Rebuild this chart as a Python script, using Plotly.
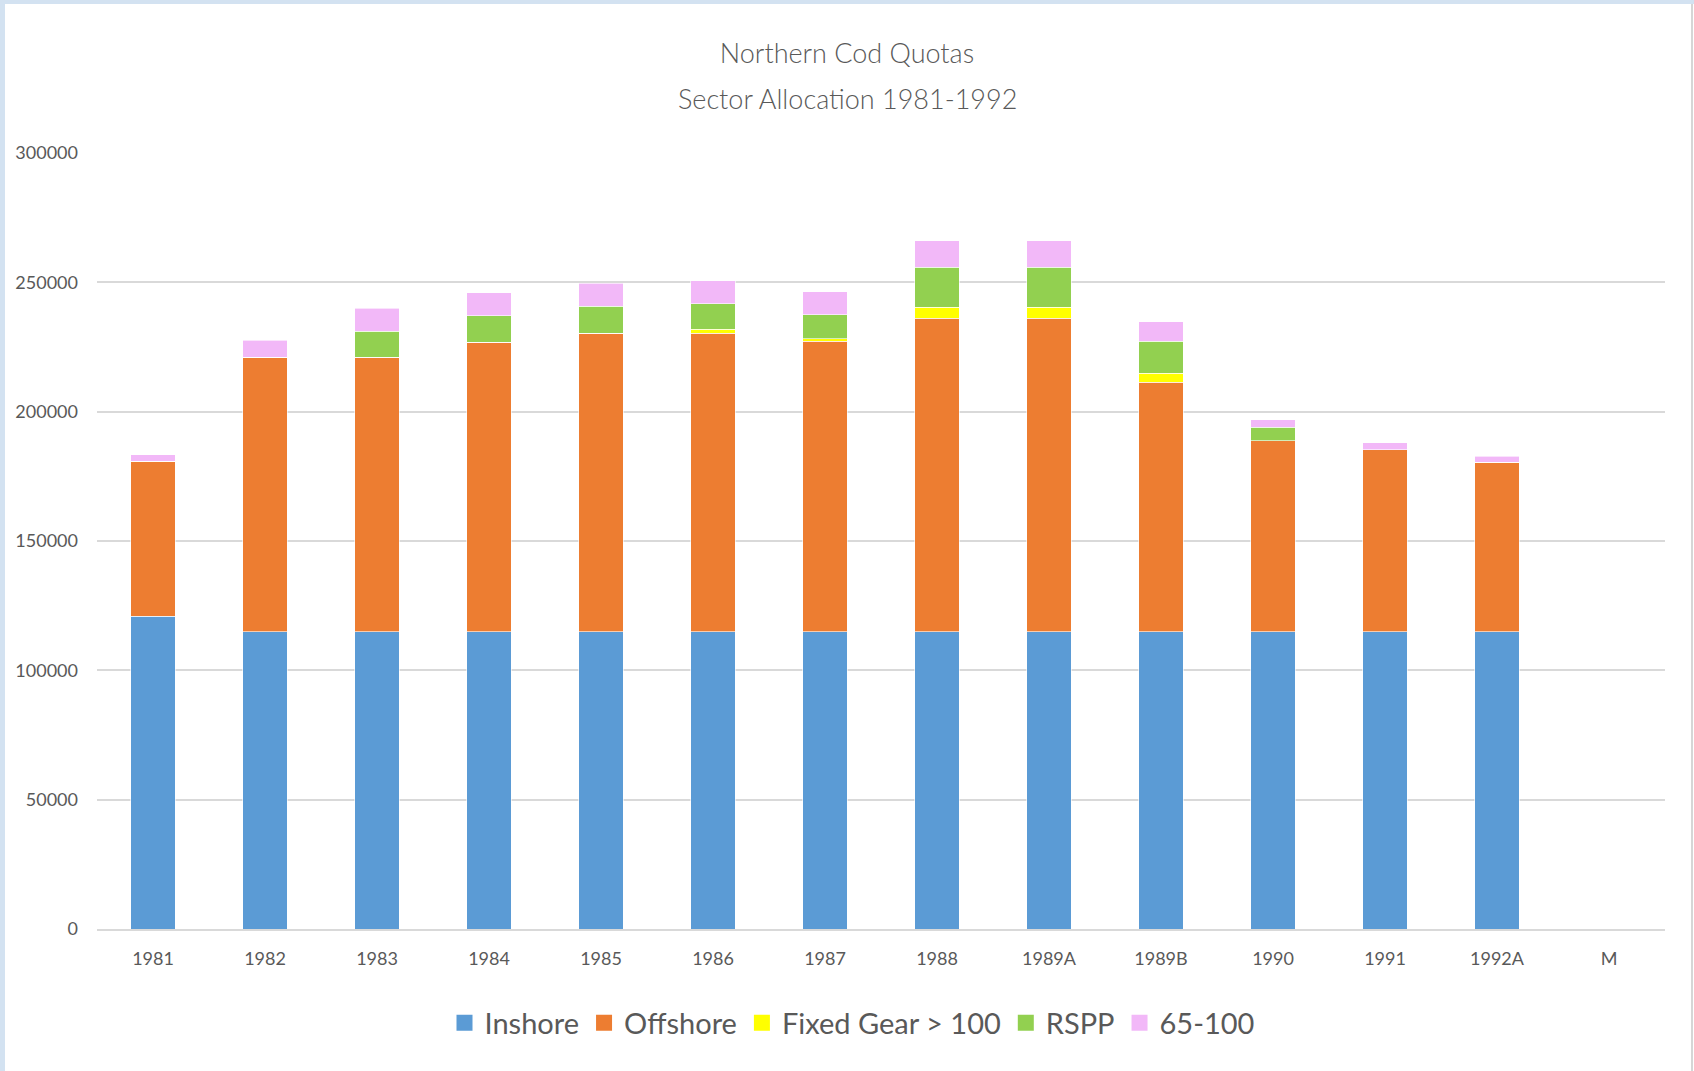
import plotly.graph_objects as go

categories = ["1981", "1982", "1983", "1984", "1985", "1986", "1987",
              "1988", "1989A", "1989B", "1990", "1991", "1992A", "M"]

inshore = [121000, 115000, 115000, 115000, 115000, 115000, 115000,
           115000, 115000, 115000, 115000, 115000, 115000, None]
offshore = [59800, 106100, 106100, 111800, 115400, 115400, 112200,
            121100, 121100, 96350, 73800, 70200, 65400, None]
fixed_gear = [0, 0, 0, 0, 0, 1400, 900,
              4200, 4200, 3550, 0, 0, 0, None]
rspp = [0, 0, 10000, 10200, 10400, 9950, 9400,
        15500, 15500, 12300, 5150, 0, 0, None]
small_65_100 = [2500, 6600, 8900, 9000, 8900, 8850, 8900,
                10300, 10300, 7600, 2850, 2700, 2300, None]

series = [
    ("Inshore", inshore, "#5B9BD5"),
    ("Offshore", offshore, "#ED7D31"),
    ("Fixed Gear > 100", fixed_gear, "#FFFF00"),
    ("RSPP", rspp, "#92D050"),
    ("65-100", small_65_100, "#F2B8F8"),
]

FONT = "Lato, sans-serif"
TXT = "#595959"

fig = go.Figure()
for name, vals, col in series:
    fig.add_trace(go.Bar(
        x=categories, y=vals, name=name,
        legendgroup=name, showlegend=False,
        marker=dict(color=col, line=dict(color="white", width=0.6)),
    ))
# legend entries (square keys like the original)
for name, vals, col in series:
    fig.add_trace(go.Scatter(
        x=[None], y=[None], name=name, legendgroup=name,
        mode="markers",
        marker=dict(symbol="square", size=16, color=col),
        showlegend=True,
    ))

W, H = 1694, 1071
L, R, T, B = 97, 29, 153, 142
pw, ph = W - L - R, H - T - B


def px_x(p):
    return (p - L) / pw


def px_y(p):
    return (H - B - p) / ph


fig.update_layout(
    width=W, height=H,
    margin=dict(l=L, r=R, t=T, b=B),
    barmode="stack",
    bargap=0.6,
    paper_bgcolor="white",
    plot_bgcolor="white",
    font=dict(family=FONT, color=TXT),
    title=dict(
        text="Northern Cod Quotas",
        x=0.5, xref="container", xanchor="center",
        y=1 - 54 / H, yref="container", yanchor="middle",
        font=dict(size=27, color=TXT, family=FONT, weight=300),
    ),
    annotations=[dict(
        text="Sector Allocation 1981-1992",
        xref="paper", yref="paper",
        x=px_x(847), y=px_y(98),
        xanchor="center", yanchor="middle",
        showarrow=False,
        font=dict(size=27, color=TXT, family=FONT, weight=300),
    )],
    legend=dict(
        orientation="h",
        x=px_x(852), xanchor="center",
        y=px_y(1023), yanchor="middle",
        font=dict(size=29, color=TXT, family=FONT),
        traceorder="normal",
    ),
    xaxis=dict(
        type="category",
        showgrid=False,
        showline=True, linecolor="#D9D9D9", linewidth=2,
        tickfont=dict(size=18, color=TXT, family=FONT),
        ticklabelstandoff=12,
        fixedrange=True,
    ),
    yaxis=dict(
        range=[0, 300000],
        dtick=50000,
        tickformat="d",
        showgrid=True, gridcolor="#D9D9D9", gridwidth=2,
        zeroline=False,
        showline=False,
        tickfont=dict(size=18, color=TXT, family=FONT),
        ticklabelstandoff=18,
        fixedrange=True,
    ),
    shapes=[
        dict(type="rect", xref="paper", yref="paper", layer="below",
             x0=px_x(0), x1=px_x(5), y0=px_y(H), y1=px_y(0),
             fillcolor="#D3E2F1", line=dict(width=0)),
        dict(type="rect", xref="paper", yref="paper", layer="below",
             x0=px_x(0), x1=px_x(W), y0=px_y(4), y1=px_y(0),
             fillcolor="#D3E2F1", line=dict(width=0)),
        dict(type="rect", xref="paper", yref="paper", layer="below",
             x0=px_x(1691), x1=px_x(1693), y0=px_y(H), y1=px_y(4),
             fillcolor="#D6D6D6", line=dict(width=0)),
    ],
)

fig.write_html("out.html", config={"displayModeBar": False},
               post_script="document.body.style.margin='0';")
